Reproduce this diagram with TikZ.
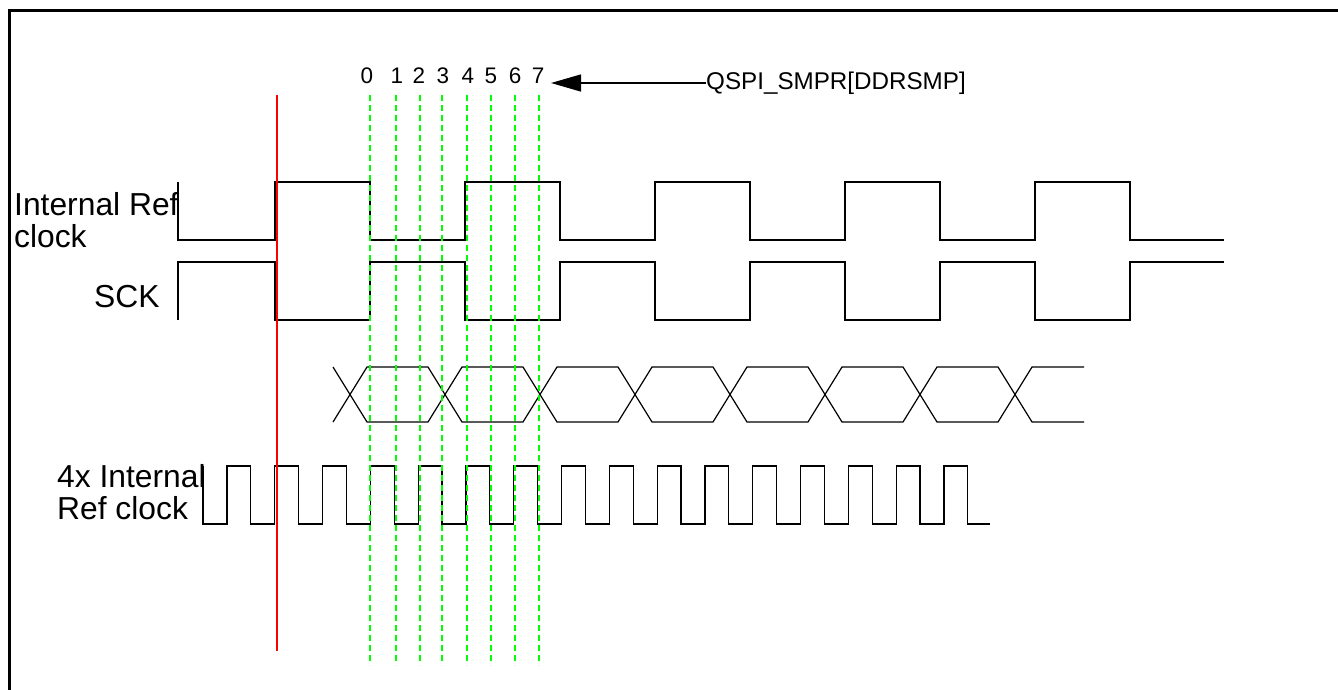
\documentclass[tikz,border=0pt]{standalone}
\usepackage{fontspec}
\setmainfont{Liberation Sans}
\usetikzlibrary{arrows.meta}
\definecolor{smpgreen}{RGB}{0,255,0}
\definecolor{refred}{RGB}{255,0,0}
\tikzset{
  wave/.style={line width=1.2pt},
  smpline/.style={smpgreen,line width=2.6pt,dash pattern=on 6pt off 4pt},
  siglabel/.style={anchor=north west,align=left,inner sep=0pt,font=\fontsize{31.8}{32}\selectfont},
  smpnum/.style={anchor=base,inner sep=0pt,font=\fontsize{22.5}{24}\selectfont}
}
\begin{document}
\begin{tikzpicture}[x=1pt,y=-1pt]
  \fill[white] (0,0) rectangle (1338,690);
  \useasboundingbox (0,0) rectangle (1338,690);
  \draw[line width=3pt] (9,690) -- (9,11) -- (1338,11);
  \node[siglabel] (intclk) at (14,192.5) {Internal Ref\\clock};
  \node[siglabel,anchor=base west] (sck) at (94,307) {SCK};
  \node[siglabel] (fourx) at (57,464.5) {4x Internal\\Ref clock};
  \draw[wave] (178,182) -- (178,240) foreach \x in {275,465,655,845,1035} { -| (\x,182) -| ({\x+95},240) } -- (1224,240);
  \draw[wave] (178,320) -- (178,262) foreach \x in {275,465,655,845,1035} { -| (\x,320) -| ({\x+95},262) } -- (1224,262);
  \draw[wave] (333,367) -- (350,394.5) -- (333,422);
  \foreach \c in {350,445,540,635,730,825,920}
    \draw[wave] (\c,394.5) -- ({\c+17},367) -- ({\c+78},367) -- ({\c+95},394.5) -- ({\c+78},422) -- ({\c+17},422) -- cycle;
  \draw[wave] (1084,367) -- (1032,367) -- (1015,394.5) -- (1032,422) -- (1084,422);
  \draw[wave] (203,466) -- (203,524) foreach \k in {0,...,15} { -| ({203+23.9*(2*\k+1)},466) -| ({203+23.9*(2*\k+2)},524) } -- (990,524);
  \foreach \x in {370,396,420,442,467,491,515,539}
    \draw[smpline] (\x,95) -- (\x,665);
  \draw[refred,line width=2.8pt] (277,95) -- (277,651);
  \foreach \d/\x in {0/367,1/397,2/419,3/443,4/468,5/491,6/515,7/538}
    \node[smpnum] (d\d) at (\x,84) {\d};
  \node[anchor=west,inner sep=0pt,font=\fontsize{24.2}{26}\selectfont] (smpr) at (706,83) {QSPI\_SMPR[DDRSMP]};
  \coordinate (tip) at (551,83);
  \draw[line width=1.3pt,-{Triangle[length=30pt,width=17pt]}] (smpr.west) -- (tip);
\end{tikzpicture}
\end{document}
